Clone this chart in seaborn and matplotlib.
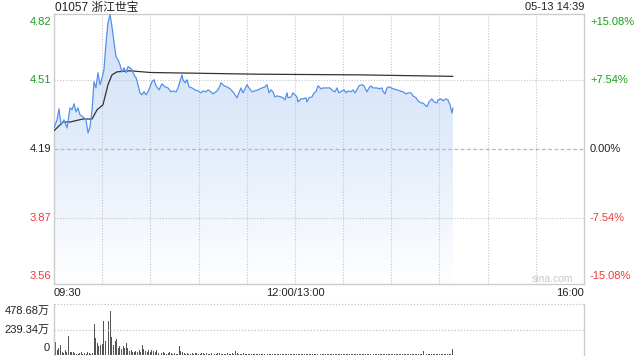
import numpy as np
import matplotlib
matplotlib.use("Agg")
import matplotlib.pyplot as plt
import seaborn as sns
from matplotlib.colors import LinearSegmentedColormap

# ---------------- data ----------------
title = "01057 浙江世宝"
stamp = "05-13 14:39"
prev_close = 4.19
price_ticks = [4.82, 4.51, 4.19, 3.87, 3.56]
pct_labels = ["+15.08%", "+7.54%", "0.00%", "-7.54%", "-15.08%"]
x_tick_pos = [0, 150, 330]
x_tick_labels = ["09:30", "12:00/13:00", "16:00"]
vol_ticks = [478.68, 239.34, 0]
vol_labels = ["478.68万", "239.34万", "0"]

# minutes after 09:30 (lunch break removed) and prices
price_min = [0, 1.9, 3.1, 4.4, 6.2, 8.1, 10, 11.2, 12.5, 13.7, 14.9, 16.2, 18.1, 19.9, 21.2,
             22.4, 23.7, 24.9, 26.1, 27.4, 28.6, 29.9, 31.1, 32.4, 33.6, 34.9, 36.1, 37.4,
             38.6, 39.8, 41.1, 42.3, 43.6, 44.8, 46.1, 47.3, 48.6, 49.8, 51.1, 52.3, 53.5,
             54.8, 56.0, 57.3, 58.5, 59.8, 61, 62.3, 63.5, 65.4, 67.2, 69.1, 71, 72.8, 74.1,
             76, 77.2, 79.1, 79.7, 80.3, 81.6, 82.8, 84.1, 85.9, 87.8, 89.7, 91.5, 92.8,
             94.6, 95.9, 97.7, 99, 101.5, 102.7, 104, 105.8, 107.7, 109.6, 111.4, 112.7,
             113.9, 115.2, 116.4, 117.7, 118.9, 120.2, 121.4, 123.3, 125.1, 127, 129.5,
             131.4, 132.6, 133.9, 135.1, 136.3, 137.6, 138.8, 141.3, 142.6, 143.8, 145.1,
             145.7, 147.6, 148.8, 150, 151.3, 151.9, 153.8, 155, 156.9, 157.5, 158.8,
             160.6, 161.9, 163.1, 164.4, 166.2, 167.5, 170, 171.8, 173.7, 175, 176.2,
             177.4, 179.3, 180.6, 181.8, 183, 184.9, 186.2, 187.4, 188.6, 189.9, 191.8,
             193, 194.2, 194.9, 196.1, 197.4, 198.6, 201.1, 202.3, 204.2, 204.8, 206.1,
             207.3, 208.6, 211.1, 213.6, 215.4, 217.3, 219.2, 220.4, 222.3, 223.5, 225.4,
             226.6, 228.5, 229.7, 231, 232.2, 233.5, 235.3, 236.6, 238.5, 239.1, 241,
             242.2, 244.1, 245.3, 246.6, 247.8, 248.4]
price_val = [4.288, 4.326, 4.377, 4.302, 4.326, 4.288, 4.382, 4.373, 4.401, 4.363, 4.382,
             4.349, 4.340, 4.326, 4.265, 4.293, 4.373, 4.504, 4.475, 4.546, 4.490, 4.522,
             4.560, 4.686, 4.780, 4.817, 4.761, 4.686, 4.621, 4.607, 4.583, 4.550, 4.569,
             4.546, 4.574, 4.569, 4.560, 4.536, 4.522, 4.490, 4.452, 4.443, 4.457, 4.443,
             4.457, 4.480, 4.504, 4.513, 4.485, 4.466, 4.494, 4.480, 4.475, 4.457, 4.461,
             4.457, 4.475, 4.522, 4.536, 4.513, 4.499, 4.513, 4.480, 4.475, 4.466, 4.461,
             4.452, 4.461, 4.457, 4.466, 4.457, 4.447, 4.461, 4.475, 4.499, 4.485, 4.480,
             4.471, 4.457, 4.443, 4.429, 4.452, 4.475, 4.452, 4.471, 4.490, 4.475, 4.457,
             4.461, 4.466, 4.475, 4.480, 4.490, 4.452, 4.466, 4.457, 4.433, 4.438, 4.433,
             4.429, 4.419, 4.452, 4.429, 4.433, 4.452, 4.443, 4.433, 4.410, 4.424, 4.424,
             4.429, 4.410, 4.429, 4.433, 4.452, 4.457, 4.485, 4.471, 4.475, 4.475, 4.475,
             4.461, 4.457, 4.475, 4.452, 4.461, 4.466, 4.452, 4.461, 4.457, 4.466, 4.452,
             4.466, 4.485, 4.490, 4.485, 4.466, 4.457, 4.475, 4.485, 4.475, 4.475, 4.471,
             4.475, 4.461, 4.447, 4.475, 4.480, 4.471, 4.466, 4.461, 4.457, 4.447, 4.452,
             4.452, 4.438, 4.429, 4.415, 4.405, 4.405, 4.396, 4.387, 4.410, 4.424, 4.410,
             4.405, 4.419, 4.424, 4.415, 4.424, 4.419, 4.396, 4.358, 4.382]

avg_min = [0, 5.6, 10, 18, 23.7, 26.8, 30.5, 33.6, 36.1, 39.2, 47.3, 60, 128, 190, 248.4]
avg_val = [4.275, 4.316, 4.316, 4.330, 4.330, 4.373, 4.396, 4.490, 4.536, 4.550, 4.555,
           4.547, 4.539, 4.536, 4.529]

# volume per minute (万股)
volume = ([128, 125, 48, 70, 96, 32, 15, 48, 25, 175, 25, 32, 25, 16, 10, 12, 15, 25, 12, 15,
           10, 25, 16, 12, 20]
          + [294, 160, 112, 80, 96, 102, 319, 134, 478.68, 319, 415, 166, 96, 128, 153, 70, 89,
             54, 80, 70, 112, 64, 38, 48]
          + [25, 32, 38, 25, 48, 30, 96, 57, 38, 25, 48, 32, 48, 38, 32, 48, 16, 25, 20, 32,
             16, 12, 20, 25, 16, 12, 18, 14, 10]
          + [89]
          + [38, 25, 16, 12, 20, 14, 10, 16, 12, 22, 18, 12, 10, 15, 20, 12, 16, 10, 12, 18,
             14, 10, 12, 16, 20, 12, 10, 14, 12, 16, 10, 12, 15, 12]
          + [41]
          + [22, 14, 12, 10, 16, 12, 10, 14, 12, 10, 8, 12, 10, 14, 12, 8, 10, 12, 9, 10, 14,
             10, 8, 12, 10, 9, 12, 10, 8, 10, 12, 9, 10, 8, 12, 10]
          + [10, 8, 9, 12, 8, 7, 10, 9, 8, 11, 9, 8, 10, 7, 9, 12, 8, 9, 10, 8,
             7, 9, 10, 8, 9, 7, 8, 10, 9, 8, 12, 9, 8, 10, 7, 9, 8, 10, 9, 7,
             8, 9, 11, 8, 10, 9, 7, 8, 10, 9, 8, 10, 9, 7, 8, 12, 9, 8, 10, 9,
             7, 8, 9, 10, 8, 9, 11, 8, 7, 9, 10, 8, 9, 12, 8, 10, 9, 8, 7, 10]
          + [38]
          + [9, 8, 10, 7, 9, 8, 10, 12, 9, 8, 10, 9, 11, 8, 10, 12, 14]
          + [54])
vol_min = list(range(len(volume)))

# ---------------- style ----------------
sns.set_theme(style="white")
plt.rcParams["font.family"] = ["Liberation Sans", "Noto Sans CJK SC", "DejaVu Sans"]

GREEN = "#1a9e1a"
RED = "#f03a3a"
BLACK = "#222222"
GRID = "#c4c4c4"
BORDER = "#cccccc"
label_colors = [GREEN, GREEN, BLACK, RED, RED]

W, H = 640, 360
fig = plt.figure(figsize=(6.4, 3.6), dpi=100)
ax = fig.add_axes([54 / W, 1 - 284 / H, 530 / W, 270 / H])
axv = fig.add_axes([54 / W, 1 - 355 / H, 530 / W, 51 / H])

ymin, ymax = price_ticks[-1], price_ticks[0]

# gradient area fill
fb = ax.fill_between(price_min, price_val, ymin, facecolor="none", edgecolor="none")
cmap = LinearSegmentedColormap.from_list("g", ["#d0e1f8", "#e3edfb", "#ffffff"])
grad = np.linspace(0, 1, 256).reshape(-1, 1)
im = ax.imshow(grad, extent=[price_min[0], price_min[-1], ymin, ymax], aspect="auto",
               origin="upper", cmap=cmap, zorder=1)
im.set_clip_path(fb.get_paths()[0], transform=ax.transData)

# grid (drawn above the fill)
for m in range(30, 330, 30):
    ax.axvline(m, color=GRID, lw=0.8, ls=(0, (1, 1.5)), zorder=2)
for v in [price_ticks[1], price_ticks[3]]:
    ax.axhline(v, color=GRID, lw=0.8, ls=(0, (1, 1.5)), zorder=2)
ax.axhline(prev_close, color="#b8b8b8", lw=0.9, ls=(0, (3, 2)), zorder=2)

sns.lineplot(x=avg_min, y=avg_val, ax=ax, color="#333333", lw=0.9, sort=False, zorder=3)
sns.lineplot(x=price_min, y=price_val, ax=ax, color="#5591ea", lw=0.9, sort=False, zorder=4)

ax.set_xlim(0, 330)
ax.set_ylim(ymin, ymax)
ax.set_xticks([])
ax.set_yticks([])
ax.set_xlabel("")
ax.set_ylabel("")
for s in ax.spines.values():
    s.set_color(BORDER)
    s.set_linewidth(1)

# y labels
fs = 8
for v, c, pl in zip(price_ticks, label_colors, pct_labels):
    va = "center"
    dy = 0
    if v == ymax:
        va, dy = "top", -3
    elif v == ymin:
        va, dy = "bottom", 3
    ax.annotate(f"{v:.2f}", xy=(0, v), xycoords=("axes fraction", "data"),
                xytext=(-2.5, dy), textcoords="offset pixels", ha="right", va=va,
                color=c, fontsize=fs)
    ax.annotate(pl, xy=(1, v), xycoords=("axes fraction", "data"),
                xytext=(6, dy), textcoords="offset pixels", ha="left", va=va,
                color=c, fontsize=fs)

# x labels
has = ["left", "center", "right"]
for p, lab, ha in zip(x_tick_pos, x_tick_labels, has):
    ax.annotate(lab, xy=(p, 0), xycoords=("data", "axes fraction"), xytext=(0, -8.5),
                textcoords="offset pixels", ha=ha, va="center", color=BLACK, fontsize=fs)

fig.text(573 / W, 1 - 279 / H, "sina.com", ha="right", va="center", color="#c8c8c8",
         fontsize=7.5)
fig.text(55 / W, 1 - 7.5 / H, title, ha="left", va="center", color=BLACK, fontsize=8.5)
fig.text(584 / W, 1 - 7.5 / H, stamp, ha="right", va="center", color=BLACK, fontsize=8)

# volume
axv.bar(vol_min, volume, width=0.6, color="#555555", linewidth=0)
axv.set_xlim(0, 330)
axv.set_ylim(0, vol_ticks[0])
axv.set_xticks([])
axv.set_yticks([])
axv.axhline(vol_ticks[0], color=GRID, lw=0.9, ls=(0, (1, 1.5)), clip_on=False)
axv.axhline(vol_ticks[1], color=GRID, lw=0.9, ls=(0, (1, 1.5)))
axv.spines["top"].set_visible(False)
axv.spines["bottom"].set_visible(False)
for k in ["left", "right"]:
    axv.spines[k].set_color(BORDER)
    axv.spines[k].set_linewidth(1)
for v, lab in zip(vol_ticks, vol_labels):
    va, dy = "center", 0
    if v == vol_ticks[0]:
        va, dy = "top", -2
    elif v == 0:
        va, dy = "bottom", 2
    axv.annotate(lab, xy=(0, v), xycoords=("axes fraction", "data"), xytext=(-4, dy),
                 textcoords="offset pixels", ha="right", va=va, color=BLACK, fontsize=fs)

fig.savefig("out.png", dpi=100)
